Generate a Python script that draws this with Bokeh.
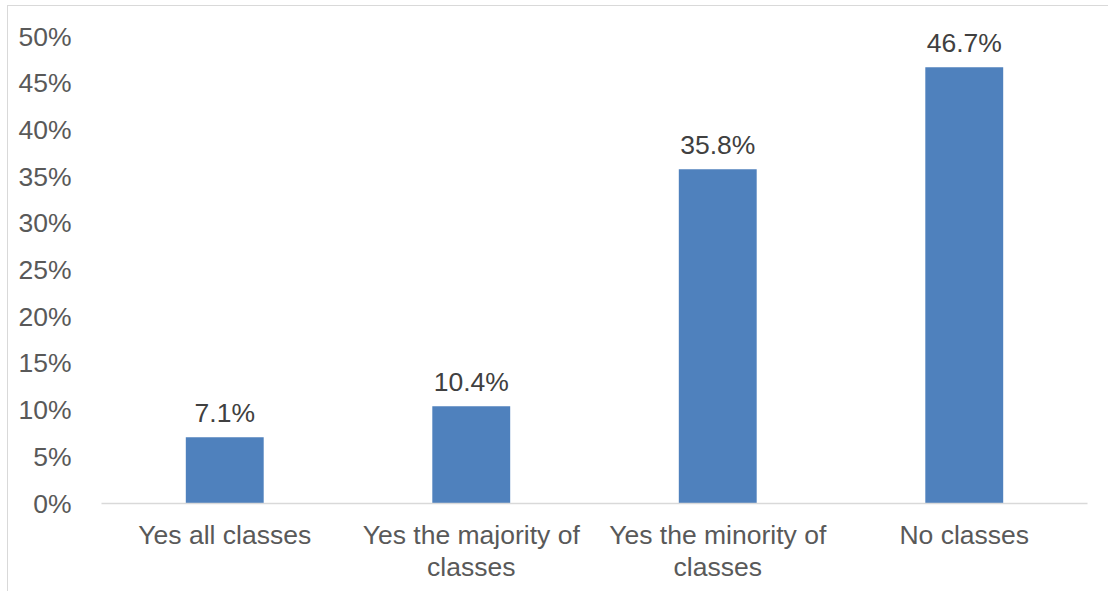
from bokeh.plotting import figure
from bokeh.models import ColumnDataSource, FixedTicker, PrintfTickFormatter
from bokeh.core.properties import value
from bokeh.embed import file_html
from bokeh.resources import INLINE

categories = ["Yes all classes", "Yes the majority of\nclasses", "Yes the minority of\nclasses", "No classes"]
values = [7.1, 10.4, 35.8, 46.7]
labels = ["7.1%", "10.4%", "35.8%", "46.7%"]
y_ticks = [0, 5, 10, 15, 20, 25, 30, 35, 40, 45, 50]

src = ColumnDataSource(dict(cat=categories, val=values, lab=labels))

p = figure(x_range=categories, y_range=(0, 53), width=1101, height=586,
           output_backend="svg", toolbar_location=None,
           min_border_left=93, min_border_right=22, min_border_top=2, min_border_bottom=89)
p.styles = {"border-left": "1.5px solid #d9d9d9", "border-top": "1.5px solid #d9d9d9",
            "margin-left": "7px", "margin-top": "5px"}
p.outline_line_color = None
p.background_fill_color = "white"
p.border_fill_color = "white"
p.xgrid.grid_line_color = None
p.ygrid.grid_line_color = None
p.x_range.range_padding = 0

p.vbar(x="cat", top="val", width=0.316, source=src, fill_color="#4f81bd", line_color=None)
p.text(x="cat", y="val", text="lab", source=src, text_align="center", text_baseline="alphabetic",
       y_offset=-24, text_font=value("Liberation Sans"), text_font_size="26.5px", text_color="#404040")

ya = p.yaxis[0]
ya.ticker = FixedTicker(ticks=y_ticks)
ya.formatter = PrintfTickFormatter(format="%d%%")
ya.axis_line_color = None
ya.major_tick_line_color = None
ya.minor_tick_line_color = None
ya.major_label_standoff = 24
ya.major_label_text_font = "Liberation Sans"
ya.major_label_text_font_size = "26.5px"
ya.major_label_text_color = "#595959"

xa = p.xaxis[0]
xa.axis_line_color = "#d9d9d9"
xa.axis_line_width = 1.5
xa.major_tick_line_color = None
xa.minor_tick_line_color = None
xa.major_label_standoff = 10
xa.major_label_text_font = "Liberation Sans"
xa.major_label_text_font_size = "26.5px"
xa.major_label_text_line_height = 1.07
xa.major_label_text_color = "#595959"
xa.major_label_orientation = "horizontal"

open("out.html", "w").write(file_html(p, INLINE))
